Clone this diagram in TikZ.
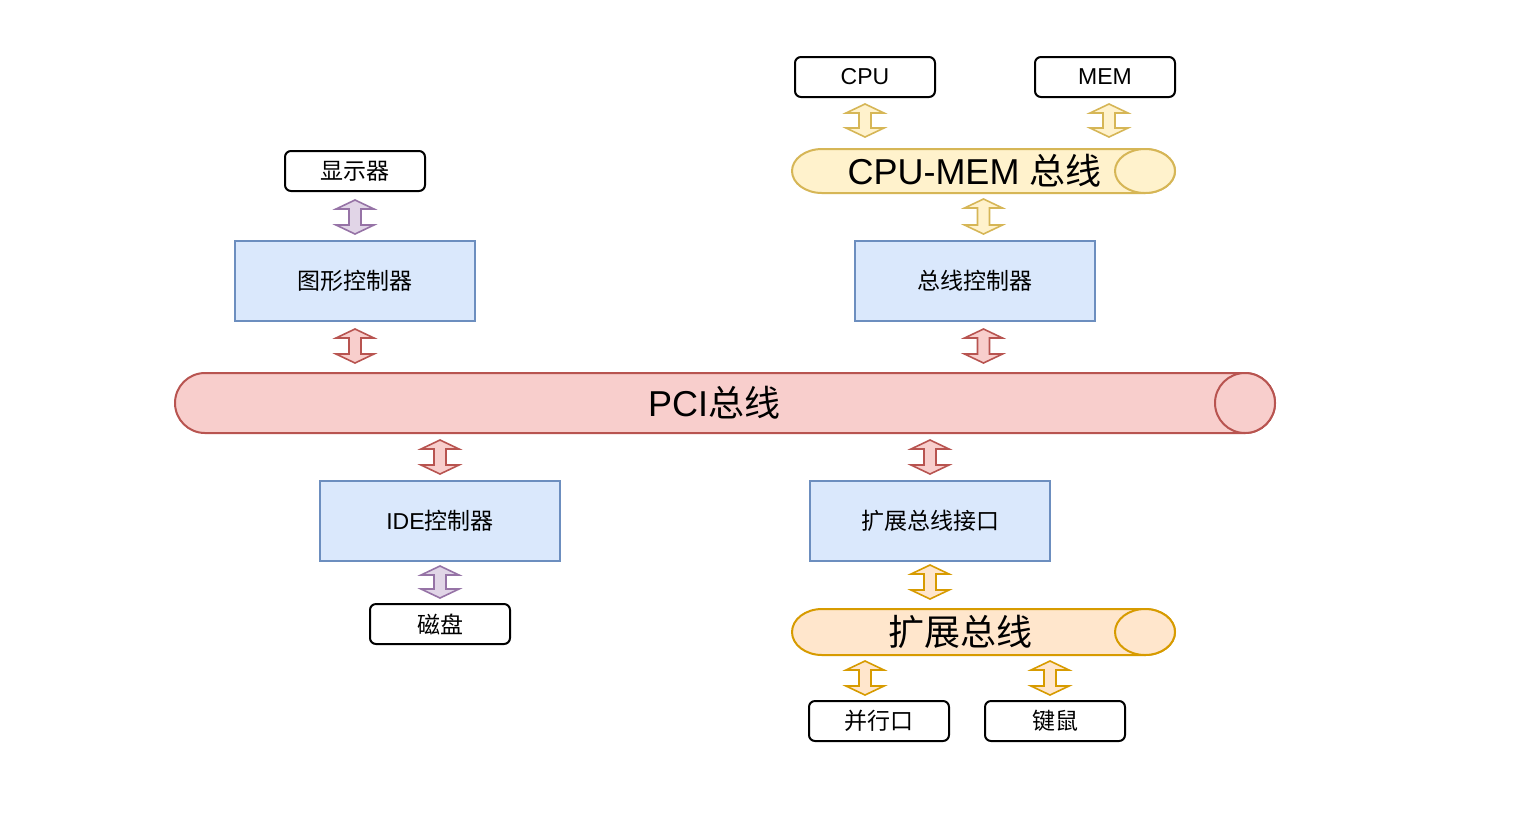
\documentclass[tikz,border=0pt]{standalone}
\usepackage{fontspec}
\setmainfont{Liberation Sans}
\newfontfamily\cjk{Noto Sans CJK SC}
\usetikzlibrary{calc}
\definecolor{bluefill}{HTML}{DAE8FC}\definecolor{bluedraw}{HTML}{6C8EBF}
\definecolor{redfill}{HTML}{F8CECC}\definecolor{reddraw}{HTML}{B85450}
\definecolor{yelfill}{HTML}{FFF2CC}\definecolor{yeldraw}{HTML}{D6B656}
\definecolor{orafill}{HTML}{FFE6CC}\definecolor{oradraw}{HTML}{D79B00}
\definecolor{purfill}{HTML}{E1D5E7}\definecolor{purdraw}{HTML}{9673A6}
\newcommand\fgs{3.5pt}
\newcommand\fge{3.5pt}
\newcommand\fhw{9.5pt}
\newcommand\fsw{3pt}
\newcommand\fhl{4.5pt}
\tikzset{
  gs/.code={\def\fgs{#1}},
  ge/.code={\def\fge{#1}},
  flexarr/.style={line width=0.8pt, line join=miter, to path={
    let \p1=(\tikztostart), \p2=(\tikztotarget) in
    (\x1,\y1-\fgs) -- (\x1+\fhw,\y1-\fgs-\fhl) -- (\x1+\fsw,\y1-\fgs-\fhl)
    -- (\x1+\fsw,\y2+\fge+\fhl) -- (\x1+\fhw,\y2+\fge+\fhl) -- (\x1,\y2+\fge)
    -- (\x1-\fhw,\y2+\fge+\fhl) -- (\x1-\fsw,\y2+\fge+\fhl)
    -- (\x1-\fsw,\y1-\fgs-\fhl) -- (\x1-\fhw,\y1-\fgs-\fhl) -- cycle}},
  yarr/.style={flexarr, fill=yelfill, draw=yeldraw},
  oarr/.style={flexarr, fill=orafill, draw=oradraw},
  rarr/.style={flexarr, fill=redfill, draw=reddraw},
  parr/.style={flexarr, fill=purfill, draw=purdraw},
  smallbox/.style={draw=black, line width=1pt, rounded corners=3pt, minimum width=70pt, minimum height=20pt, inner sep=0pt, font=\fontsize{11.5}{14}\selectfont},
  ctlbox/.style={draw=bluedraw, fill=bluefill, line width=1pt, minimum width=120pt, minimum height=40pt, inner sep=0pt, font=\fontsize{11.5}{14}\selectfont},
  cylnode/.style={inner sep=0pt, outer sep=0pt},
  bigtext/.style={font=\fontsize{18}{22}\selectfont, inner sep=0pt},
  cylline/.style={line width=1pt},
}
\newcommand\drawcyl[4]{%
  \filldraw[fill=#3,draw=#4,cylline] ([xshift=15pt]#1.north west) -- ([xshift=-15pt]#1.north east)
    arc[start angle=90,end angle=-90,x radius=15pt,y radius=#2] -- ([xshift=15pt]#1.south west)
    arc[start angle=270,end angle=90,x radius=15pt,y radius=#2] -- cycle;
  \filldraw[fill=#3,draw=#4,cylline] ([xshift=-15pt]#1.east) ellipse[x radius=15pt,y radius=#2];
}
\begin{document}
\begin{tikzpicture}[x=0.5pt,y=-0.5pt]
\useasboundingbox[fill=white] (0,0) rectangle (1514,816);
% cylinders (buses)
\node[cylnode, minimum width=191.5pt, minimum height=22pt] (cmbus) at (983.5,171) {};
\node[cylnode, minimum width=550pt, minimum height=30pt] (pci) at (725,403) {};
\node[cylnode, minimum width=191.5pt, minimum height=23pt] (xbus) at (983.5,632) {};
\drawcyl{cmbus}{11pt}{yelfill}{yeldraw}
\drawcyl{pci}{15pt}{redfill}{reddraw}
\drawcyl{xbus}{11.5pt}{orafill}{oradraw}
\node[bigtext] (cmbuslbl) at ([xshift=-4.5pt]cmbus.center) {CPU-MEM {\cjk 总线}};
\node[bigtext] (pcilbl) at ([xshift=-5.5pt]pci.center) {PCI{\cjk 总线}};
\node[bigtext] (xbuslbl) at ([xshift=-11.5pt]xbus.center) {\cjk 扩展总线};
% boxes
\node[smallbox] (cpu) at (865,77) {CPU};
\node[smallbox] (mem) at (1105,77) {MEM};
\node[smallbox] (disp) at (355,171) {\cjk 显示器};
\node[ctlbox] (gfx) at (355,281) {\cjk 图形控制器};
\node[ctlbox] (busctl) at (975,281) {\cjk 总线控制器};
\node[ctlbox] (ide) at (440,521) {IDE{\cjk 控制器}};
\node[ctlbox] (xif) at (930,521) {\cjk 扩展总线接口};
\node[smallbox] (disk) at (440,624) {\cjk 磁盘};
\node[smallbox] (pp) at (879,721) {\cjk 并行口};
\node[smallbox] (km) at (1055,721) {\cjk 键鼠};
% connectors
\draw[yarr, gs=3pt, ge=6pt] (cpu.south) to (cpu.south |- cmbus.north);
\draw[yarr, gs=3pt, ge=6pt] ([xshift=2pt]mem.south) to ([xshift=2pt]mem.south |- cmbus.north);
\draw[yarr, gs=3pt, ge=3pt] (cmbus.south) to (cmbus.south |- busctl.north);
\draw[parr, gs=4pt, ge=3pt] (disp.south) to (gfx.north);
\draw[rarr, gs=3.5pt, ge=5pt] (gfx.south) to (gfx.south |- pci.north);
\draw[rarr, gs=3.5pt, ge=5pt] (cmbus.south |- busctl.south) to (cmbus.south |- pci.north);
\draw[rarr, gs=3.5pt, ge=3pt] (pci.south -| ide.north) to (ide.north);
\draw[rarr, gs=3.5pt, ge=3pt] (pci.south -| xif.north) to (xif.north);
\draw[parr, gs=2pt, ge=2.5pt] (ide.south) to (disk.north);
\draw[oarr, gs=1.5pt, ge=5pt] (xif.south) to (xif.south |- xbus.north);
\draw[oarr, gs=3pt, ge=2.5pt] (xbus.south -| 865,0) to (pp.north -| 865,0);
\draw[oarr, gs=3pt, ge=2.5pt] (xbus.south -| 1050,0) to (km.north -| 1050,0);
\end{tikzpicture}
\end{document}
